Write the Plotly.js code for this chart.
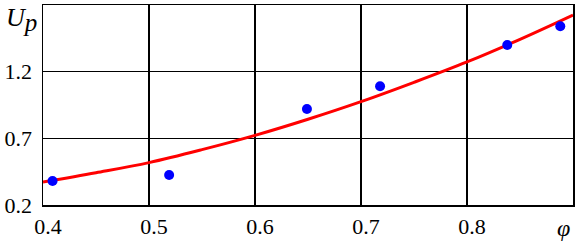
<!DOCTYPE html>
<html>
<head>
<meta charset="utf-8">
<script src="https://cdn.plot.ly/plotly-3.0.1.min.js"></script>
<style>html,body{margin:0;padding:0;background:#fff;}#chart{width:583px;height:242px;}</style>
</head>
<body>
<div id="chart"></div>
<script>
// measured points
const phiPoints = [0.409, 0.519, 0.649, 0.718, 0.838, 0.888];
const upPoints  = [0.38, 0.425, 0.92, 1.09, 1.40, 1.54];
// fitted curve, values
const phiCurve = [0.40, 0.45, 0.50, 0.55, 0.60, 0.65, 0.70, 0.75, 0.80, 0.85, 0.90];
const upCurve  = [0.372, 0.442, 0.518, 0.615, 0.722, 0.843, 0.975, 1.12, 1.273, 1.443, 1.625];
const xTicks = [0.4, 0.5, 0.6, 0.7, 0.8];
const xTickText = ['0.4', '0.5', '0.6', '0.7', '0.8'];
const yTicks = [0.2, 0.7, 1.2];
const yTickText = ['0.2', '0.7', '1.2'];

const fam = '"Liberation Serif", "Times New Roman", serif';
const font = {family: fam, size: 22, color: '#000'};

const traces = [
  {x: phiCurve, y: upCurve, mode: 'lines', line: {color: '#ff0000', width: 3, shape: 'spline'}, hoverinfo: 'none'},
  {x: phiPoints, y: upPoints, mode: 'markers', marker: {color: '#0000ff', size: 10}, hoverinfo: 'none'}
];

const layout = {
  width: 583, height: 242,
  margin: {l: 43, r: 10, t: 5, b: 37},
  paper_bgcolor: '#fff', plot_bgcolor: '#fff',
  showlegend: false,
  font: font,
  xaxis: {
    range: [0.4, 0.9], tickvals: xTicks, ticktext: xTickText,
    showgrid: true, gridcolor: '#000', gridwidth: 1.5,
    showline: true, linecolor: '#000', linewidth: 1.5, mirror: true,
    zeroline: false, ticks: '', ticklabelshift: 5, ticklabelstandoff: 1,
    tickfont: font
  },
  yaxis: {
    range: [0.2, 1.7], tickvals: yTicks, ticktext: yTickText,
    showgrid: true, gridcolor: '#000', gridwidth: 1.5,
    showline: true, linecolor: '#000', linewidth: 1.5, mirror: true,
    zeroline: false, ticks: '', ticklabelstandoff: 5,
    tickfont: font
  },
  annotations: [
    {xref: 'paper', yref: 'paper', x: -0.073, y: 1.02, xanchor: 'left', yanchor: 'top',
     text: '<i>U<sub><span style="font-size:25px">p</span></sub></i>', showarrow: false,
     font: {family: fam, size: 26, color: '#000'}},
    {xref: 'paper', yref: 'paper', x: 0.983, y: -0.115, xanchor: 'center', yanchor: 'middle',
     text: '<i>φ</i>', showarrow: false, font: {family: fam, size: 24, color: '#000'}}
  ]
};

Plotly.newPlot('chart', traces, layout, {staticPlot: true, displayModeBar: false});
</script>
</body>
</html>
